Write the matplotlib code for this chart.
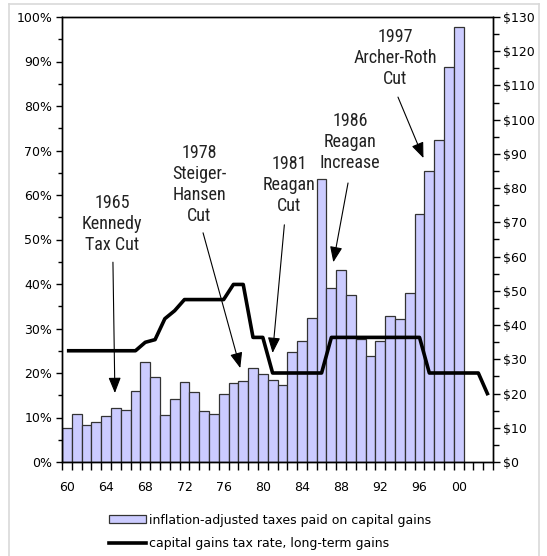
import matplotlib
matplotlib.use("Agg")
import matplotlib.pyplot as plt
from matplotlib.lines import Line2D
from matplotlib.patches import Patch
from matplotlib import font_manager
import numpy as np

# ---------------- data ----------------
bar_years = list(range(1960, 2001))
taxes_paid = [9.8, 13.9, 10.8, 11.8, 13.4, 15.8, 15.1, 20.7, 29.1, 24.7,
              13.8, 18.4, 23.5, 20.4, 14.8, 14.1, 19.8, 23.2, 23.8, 27.5,
              25.8, 24.1, 22.5, 32.0, 35.4, 42.1, 82.7, 50.7, 56.1, 48.8,
              36.0, 31.0, 35.3, 42.7, 41.8, 49.5, 72.4, 85.0, 94.1, 115.3,
              127.0]
rate_years = list(range(1960, 2004))
tax_rate = [25, 25, 25, 25, 25, 25, 25, 25, 26.9, 27.5,
            32.2, 34.0, 36.5, 36.5, 36.5, 36.5, 36.5, 39.9, 39.9, 28,
            28, 20, 20, 20, 20, 20, 20, 28, 28, 28,
            28, 28, 28, 28, 28, 28, 28, 20, 20, 20,
            20, 20, 20, 15]
xtick_years = list(range(1960, 2001, 4))
xtick_labels = ["60", "64", "68", "72", "76", "80", "84", "88", "92", "96", "00"]
pct_ticks = list(range(0, 101, 10))
pct_labels = [f"{v}%" for v in pct_ticks]
usd_ticks = list(range(0, 131, 10))
usd_labels = [f"${v}" for v in usd_ticks]

annotations = [
    ("1965\nKennedy\nTax Cut", (1964.6, 53.5), (1964.7, 44.9), (1964.9, 15.5)),
    ("1978\nSteiger-\nHansen\nCut", (1973.5, 62.4), (1973.9, 51.5), (1977.7, 21.1)),
    ("1981\nReagan\nCut", (1982.7, 62.2), (1982.2, 53.3), (1981.0, 24.5)),
    ("1986\nReagan\nIncrease", (1988.9, 71.9), (1988.7, 62.7), (1987.2, 44.9)),
    ("1997\nArcher-Roth\nCut", (1993.5, 90.8), (1993.8, 82.0), (1996.4, 68.3)),
]

bar_color = "#CCCCFF"
edge_color = "#333333"

plt.rcParams['font.family'] = ['DejaVu Sans']

# pick a condensed face for the annotations if one is installed
names = {f.name for f in font_manager.fontManager.ttflist}
cond_candidates = ['Liberation Sans Narrow', 'Roboto Condensed', 'Open Sans Condensed',
                   'DejaVu Sans Condensed', 'Noto Sans Condensed']
ann_family = None
for c in cond_candidates:
    if c in names:
        ann_family = c
        break
ann_kw = {}
if ann_family is None:
    dj_cond = [f for f in font_manager.fontManager.ttflist
               if f.name == 'DejaVu Sans' and f.stretch == 'condensed']
    if dj_cond:
        ann_kw = dict(family='DejaVu Sans', fontstretch='condensed')
    else:
        ann_kw = dict(family='Roboto')
else:
    ann_kw = dict(family=ann_family)

fig = plt.figure(figsize=(5.47, 5.56), dpi=100)
ax = fig.add_axes([62/547, 1-462/556, (493-62)/547, (462-17)/556])
ax2 = ax.twinx()

# bars on the right ($) axis
ax2.bar(bar_years, taxes_paid, width=1.0, color=bar_color,
        edgecolor=edge_color, linewidth=0.9, zorder=2)
ax2.set_ylim(0, 130)
ax2.set_yticks(usd_ticks)
ax2.set_yticklabels(usd_labels, fontsize=9)
ax2.set_yticks(np.arange(5, 130, 10), minor=True)
ax2.tick_params(axis='y', which='major', direction='out', length=5, width=1, pad=2)
ax2.tick_params(axis='y', which='minor', direction='out', length=4, width=1)

# line on the left (%) axis, drawn above bars
ax.set_zorder(ax2.get_zorder() + 1)
ax.patch.set_visible(False)
ax.plot(rate_years, tax_rate, color='black', linewidth=2.6,
        solid_joinstyle='round', solid_capstyle='butt', zorder=3)
ax.set_ylim(0, 100)
ax.set_yticks(pct_ticks)
ax.set_yticklabels(pct_labels, fontsize=9)
ax.set_yticks(np.arange(5, 100, 10), minor=True)
ax.tick_params(axis='y', which='major', direction='out', length=4, width=1, pad=3)
ax.tick_params(axis='y', which='minor', direction='out', length=3, width=1)

ax.set_xlim(1959.5, 2003.5)
ax.set_xticks(xtick_years)
ax.set_xticklabels(xtick_labels, fontsize=9)
ax.set_xticks(np.arange(1959.5, 2004, 1), minor=True)
ax.tick_params(axis='x', which='major', length=0, pad=14)
ax.tick_params(axis='x', which='minor', direction='out', length=6, width=1)
ax2.tick_params(axis='x', which='both', length=0)

for a in (ax, ax2):
    for s in a.spines.values():
        s.set_linewidth(1.0)
        s.set_color('black')

# annotations
for text, tpos, start, tip in annotations:
    ax.text(tpos[0], tpos[1], text, ha='center', va='center',
            fontsize=13, linespacing=1.2, color='#222222', zorder=5, **ann_kw)
    ax.annotate('', xy=tip, xytext=start,
                arrowprops=dict(arrowstyle='-|>,head_length=0.95,head_width=0.38',
                                mutation_scale=10, lw=0.8, color='black',
                                shrinkA=0, shrinkB=0),
                zorder=5)

# legend
handles = [Patch(facecolor=bar_color, edgecolor=edge_color, linewidth=0.9),
           Line2D([0], [0], color='black', linewidth=2.6)]
labels = ["inflation-adjusted taxes paid on capital gains",
          "capital gains tax rate, long-term gains"]
fig.legend(handles, labels, loc='upper left',
           bbox_to_anchor=(100/547, 1-505/556), frameon=False,
           fontsize=9, handlelength=3.0, handleheight=0.6,
           handletextpad=0.2, labelspacing=0.8, borderpad=0.2)

# outer light frame
fc = '#D9D9D9'
fig.add_artist(Line2D([9/547, 9/547], [0, 1-4/556], color=fc, lw=1.2, transform=fig.transFigure))
fig.add_artist(Line2D([539/547, 539/547], [0, 1-4/556], color=fc, lw=1.2, transform=fig.transFigure))
fig.add_artist(Line2D([9/547, 539/547], [1-4/556, 1-4/556], color=fc, lw=1.2, transform=fig.transFigure))

fig.savefig("out.png", dpi=100)
